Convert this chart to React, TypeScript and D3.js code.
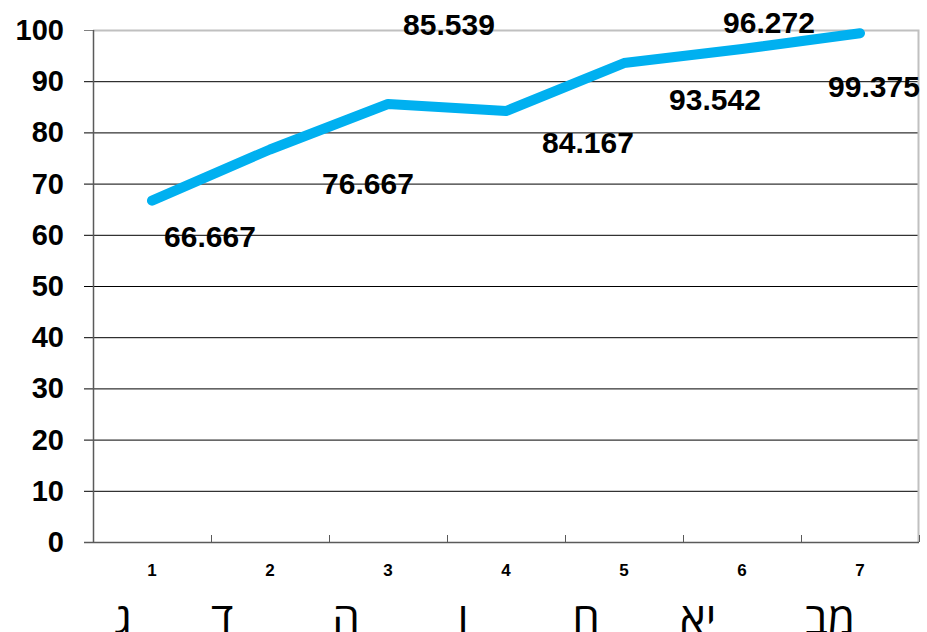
import React, { useEffect, useRef } from "react";
import * as d3 from "d3";

const categories = ["1", "2", "3", "4", "5", "6", "7"];
const hebrewLabels = ["ג", "ד", "ה", "ו", "ח", "יא", "מב"];
const values = [66.667, 76.667, 85.539, 84.167, 93.542, 96.272, 99.375];
const yTicks = [0, 10, 20, 30, 40, 50, 60, 70, 80, 90, 100];

// where each value label sits relative to its point (dx, dy to baseline)
const labelOffsets = [
  [58, 46],
  [98, 45],
  [61, -69],
  [82, 42],
  [91, 47],
  [27, -16],
  [14, 64],
];
const hebrewShift = [-29, -48, -42, -43, -38, -44, -30];

const W = 927;
const H = 632;
const margin = { top: 30, right: 8, bottom: 90, left: 93 };

function App() {
  const ref = useRef<SVGSVGElement>(null);

  useEffect(() => {
    const svg = d3.select(ref.current);
    svg.selectAll("*").remove();

    const x0 = margin.left;
    const x1 = W - margin.right;
    const y0 = H - margin.bottom;
    const y1 = margin.top;

    const x = d3.scaleBand().domain(categories).range([x0, x1]);
    const y = d3.scaleLinear().domain([0, 100]).range([y0, y1]);
    const cx = (c: string) => (x(c) as number) + x.bandwidth() / 2;

    // gridlines + left ticks
    svg
      .append("g")
      .selectAll("line")
      .data(yTicks.filter((t) => t > 0 && t < 100))
      .enter()
      .append("line")
      .attr("x1", x0 - 9)
      .attr("x2", x1)
      .attr("y1", (d) => y(d) + 0.5)
      .attr("y2", (d) => y(d) + 0.5)
      .attr("stroke", "#000")
      .attr("stroke-width", 1);

    // plot border top/right
    svg
      .append("path")
      .attr("d", `M${x0},${y1 + 0.5}H${x1 - 0.5}V${y0}`)
      .attr("fill", "none")
      .attr("stroke", "#c0c0c0")
      .attr("stroke-width", 2);
    svg
      .append("line")
      .attr("x1", x0 - 9)
      .attr("x2", x0)
      .attr("y1", y1 + 0.5)
      .attr("y2", y1 + 0.5)
      .attr("stroke", "#808080");

    // axes
    svg
      .append("line")
      .attr("x1", x0 + 0.5)
      .attr("x2", x0 + 0.5)
      .attr("y1", y1)
      .attr("y2", y0)
      .attr("stroke", "#5a5a5a")
      .attr("stroke-width", 1.5);
    svg
      .append("line")
      .attr("x1", x0 - 9)
      .attr("x2", x1)
      .attr("y1", y0 + 0.5)
      .attr("y2", y0 + 0.5)
      .attr("stroke", "#5a5a5a")
      .attr("stroke-width", 1.5);

    // category boundary ticks
    svg
      .append("g")
      .selectAll("line")
      .data(categories.slice(1).concat(["end"]))
      .enter()
      .append("line")
      .attr("x1", (d, i) => (i < 6 ? (x(d) as number) : x1) + 0.5)
      .attr("x2", (d, i) => (i < 6 ? (x(d) as number) : x1) + 0.5)
      .attr("y1", y0 - 7)
      .attr("y2", y0)
      .attr("stroke", "#5a5a5a");

    // y tick labels
    svg
      .append("g")
      .selectAll("text")
      .data(yTicks)
      .enter()
      .append("text")
      .attr("x", 64)
      .attr("y", (d) => y(d) + 10)
      .attr("text-anchor", "end")
      .attr("font-family", "Liberation Sans, Arial, sans-serif")
      .attr("font-weight", "bold")
      .attr("font-size", 29)
      .text((d) => d);

    // x tick labels
    svg
      .append("g")
      .selectAll("text")
      .data(categories)
      .enter()
      .append("text")
      .attr("x", (d) => cx(d))
      .attr("y", y0 + 34)
      .attr("text-anchor", "middle")
      .attr("font-family", "Liberation Sans, Arial, sans-serif")
      .attr("font-weight", "bold")
      .attr("font-size", 17)
      .text((d) => d);

    // hebrew labels
    svg
      .append("g")
      .selectAll("text")
      .data(hebrewLabels)
      .enter()
      .append("text")
      .attr("x", (d, i) => cx(categories[i]) + hebrewShift[i])
      .attr("y", y0 + 92)
      .attr("text-anchor", "middle")
      .attr("font-family", "Open Sans, DejaVu Sans, sans-serif")
      .attr("font-size", 44)
      .attr("fill", "#000")
      .text((d) => d);

    // line
    const line = d3
      .line<number>()
      .x((d, i) => cx(categories[i]))
      .y((d) => y(d));
    svg
      .append("path")
      .datum(values)
      .attr("d", line)
      .attr("fill", "none")
      .attr("stroke", "#00b0f0")
      .attr("stroke-width", 10)
      .attr("stroke-linecap", "round")
      .attr("stroke-linejoin", "round");

    // value labels
    svg
      .append("g")
      .selectAll("text")
      .data(values)
      .enter()
      .append("text")
      .attr("x", (d, i) => cx(categories[i]) + labelOffsets[i][0])
      .attr("y", (d, i) => y(d) + labelOffsets[i][1])
      .attr("text-anchor", "middle")
      .attr("font-family", "Liberation Sans, Arial, sans-serif")
      .attr("font-weight", "bold")
      .attr("font-size", 30)
      .text((d) => d3.format(".3f")(d));
  }, []);

  return (
    <svg
      ref={ref}
      width={W}
      height={H}
      style={{ position: "absolute", left: 0, top: 0, background: "#fff" }}
    />
  );
}

export default App;
